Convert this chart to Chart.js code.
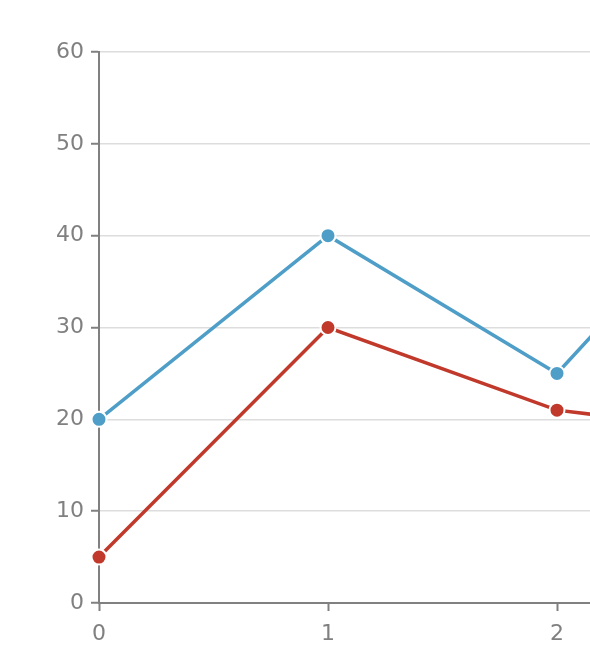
<!DOCTYPE html>
<html>
<head>
<meta charset="utf-8">
<script src="https://cdn.jsdelivr.net/npm/chart.js@4/dist/chart.umd.min.js"></script>
<style>
  html, body { margin: 0; padding: 0; background: #fff; }
  #wrap { width: 590px; height: 670px; position: relative; }
</style>
</head>
<body>
<div id="wrap"><canvas id="chart"></canvas></div>
<script>
// values (x = 3 sits just past the right edge)
const xValues = [0, 1, 2, 3];
const blueValues = [20, 40, 25, 52];
const redValues = [5, 30, 21, 18];

const blue = '#4e9ec8';
const red = '#c0392b';
const axisGrey = '#808080';

function points(ys) {
    return xValues.map((x, i) => ({ x: x, y: ys[i] }));
}

function series(ys, color) {
    return {
        data: points(ys),
        borderColor: color,
        backgroundColor: color,
        borderWidth: 3.5,
        pointRadius: 7.5,
        pointHoverRadius: 7.5,
        pointBorderColor: '#ffffff',
        pointBorderWidth: 2,
        pointBackgroundColor: color,
        tension: 0,
        clip: false
    };
}

Chart.defaults.font.family = '"DejaVu Sans", Verdana, sans-serif';
Chart.defaults.font.size = 22;
Chart.defaults.color = axisGrey;

new Chart(document.getElementById('chart'), {
    type: 'line',
    data: {
        datasets: [series(blueValues, blue), series(redValues, red)]
    },
    options: {
        responsive: true,
        maintainAspectRatio: false,
        animation: false,
        layout: { autoPadding: false, padding: { top: 52, left: 0, right: 0, bottom: 0 } },
        plugins: {
            legend: { display: false },
            tooltip: { enabled: false }
        },
        scales: {
            x: {
                type: 'linear',
                min: 0,
                max: 491 / 229,
                ticks: { stepSize: 1, includeBounds: false, padding: 10, color: axisGrey },
                grid: {
                    drawOnChartArea: false,
                    drawTicks: true,
                    tickLength: 8,
                    tickColor: axisGrey,
                    tickWidth: 2
                },
                border: { color: axisGrey, width: 2 },
                afterFit: s => { s.height = 67; }
            },
            y: {
                min: 0,
                max: 60,
                ticks: { stepSize: 10, padding: 7, color: axisGrey },
                grid: {
                    color: '#dddddd',
                    lineWidth: 1.5,
                    drawTicks: true,
                    tickLength: 8,
                    tickColor: axisGrey,
                    tickWidth: 2
                },
                border: { color: axisGrey, width: 2 },
                afterFit: s => { s.width = 99; }
            }
        }
    }
});
</script>
</body>
</html>
